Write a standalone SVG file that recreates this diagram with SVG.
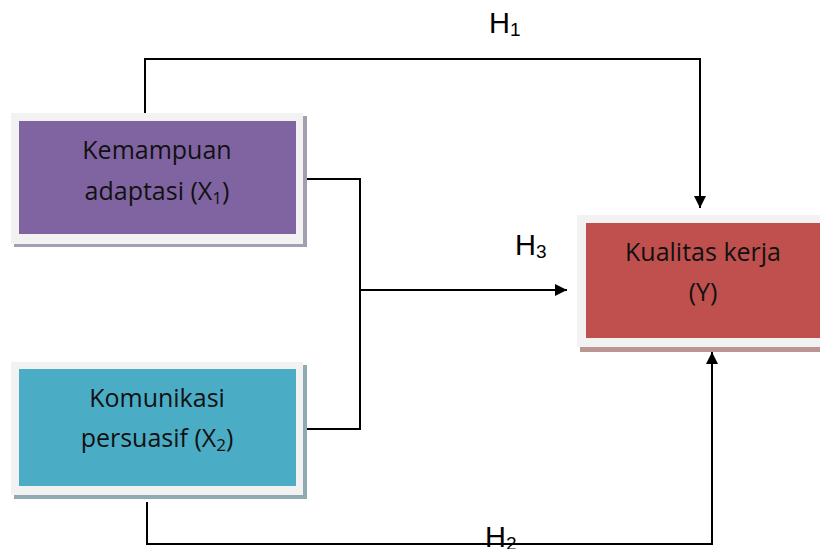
<svg xmlns="http://www.w3.org/2000/svg" width="820" height="549" viewBox="0 0 820 549">
<defs>
<style>
.frame{fill:#f2f2f2}
.lbl{font-family:"Open Sans","Liberation Sans",sans-serif;font-size:25px;fill:#111;text-anchor:middle}
.h{font-family:"Liberation Sans",Arial,sans-serif;font-size:29px;fill:#000}
.sub{font-size:19px}
.lsub{font-size:17px}
.ln{fill:none;stroke:#000;stroke-width:2}
</style>
<marker id="ahb" viewBox="0 0 10 10" refX="10" refY="5" markerWidth="12" markerHeight="14" markerUnits="userSpaceOnUse" orient="auto">
<path d="M0,0 L10,5 L0,10 z" fill="#000"/>
</marker>
</defs>
<rect width="820" height="549" fill="#fff"/>
<g id="connectors">
<polyline class="ln" points="145,113 145,59 700,59 700,208" marker-end="url(#ahb)"/>
<polyline class="ln" points="300,179 360,179 360,429 300,429"/>
<line class="ln" x1="360" y1="290" x2="567" y2="290" marker-end="url(#ahb)"/>
<polyline class="ln" points="147,502 147,544 712,544 712,352" marker-end="url(#ahb)"/>
</g>
<g id="x1">
<rect x="14" y="116" width="293" height="131" fill="#a59db0"/>
<rect class="frame" x="11" y="113" width="292" height="131"/>
<rect x="19" y="121" width="277" height="113" fill="#8064a2"/>
<text class="lbl" x="157" y="159">Kemampuan</text>
<text class="lbl" x="157" y="200">adaptasi (X<tspan class="lsub" dy="4">1</tspan><tspan dy="-4">)</tspan></text>
</g>
<g id="x2">
<rect x="14" y="365" width="293" height="134" fill="#8faab2"/>
<rect class="frame" x="11" y="362" width="292" height="133"/>
<rect x="19" y="369" width="277" height="117" fill="#4bacc6"/>
<text class="lbl" x="157" y="407">Komunikasi</text>
<text class="lbl" x="157" y="447">persuasif (X<tspan class="lsub" dy="4">2</tspan><tspan dy="-4">)</tspan></text>
</g>
<g id="y">
<rect x="580" y="218" width="245" height="134" fill="#bb9593"/>
<rect class="frame" x="577" y="215" width="250" height="132"/>
<rect x="586" y="223" width="240" height="115" fill="#c0504d"/>
<text class="lbl" x="703" y="261">Kualitas kerja</text>
<text class="lbl" x="703" y="301">(Y)</text>
</g>
<g id="labels">
<text class="h" x="489" y="33">H<tspan class="sub" dy="3">1</tspan></text>
<text class="h" x="515" y="255">H<tspan class="sub" dy="3">3</tspan></text>
<text class="h" x="485" y="547">H<tspan class="sub" dy="3">2</tspan></text>
</g>
</svg>
